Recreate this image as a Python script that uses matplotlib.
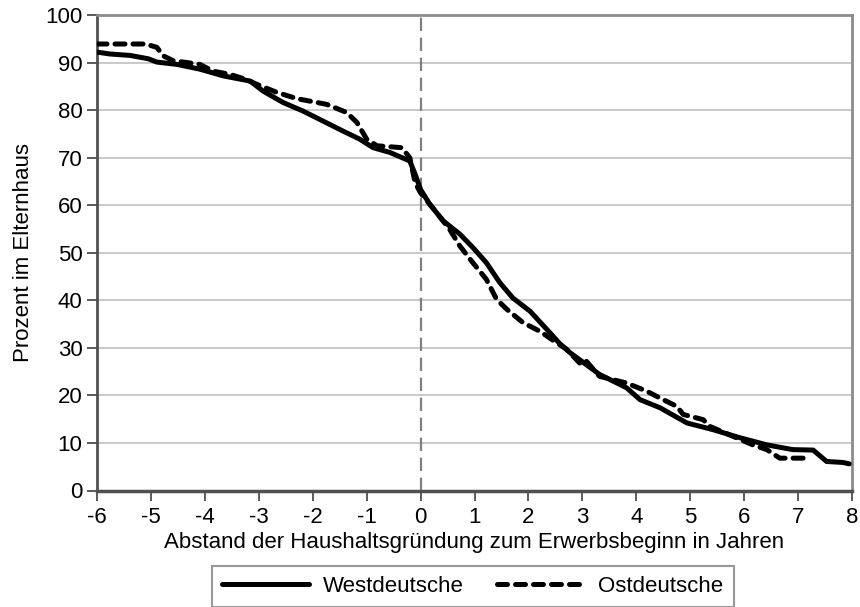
import matplotlib
matplotlib.use("Agg")
import matplotlib.pyplot as plt

plt.rcParams['font.family'] = ['Liberation Sans', 'DejaVu Sans']
plt.rcParams['axes.unicode_minus'] = False

# Westdeutsche (solid)
west_x = [-6.0, -5.76, -5.39, -5.05, -4.89, -4.51, -4.09, -3.66, -3.16, -2.92, -2.55, -2.18,
          -1.81, -1.44, -1.13, -0.88, -0.57, -0.2, -0.1, 0.0, 0.17, 0.42, 0.73, 0.97, 1.22,
          1.47, 1.71, 2.03, 2.34, 2.58, 2.77, 2.95, 3.32, 3.82, 4.07, 4.44, 4.94, 5.42, 5.92,
          6.42, 6.9, 7.28, 7.53, 7.83, 7.95]
west_y = [92.2, 91.8, 91.5, 90.8, 90.1, 89.6, 88.6, 87.2, 86.1, 84.0, 81.6, 79.8,
          77.7, 75.6, 73.9, 72.1, 71.1, 69.3, 66.5, 63.3, 60.2, 56.7, 53.9, 51.1, 47.9,
          43.7, 40.5, 37.7, 33.9, 30.9, 29.0, 27.5, 24.4, 21.6, 19.1, 17.4, 14.2, 12.8, 11.1,
          9.6, 8.6, 8.5, 6.1, 5.9, 5.6]

# Ostdeutsche (dashed)
ost_x = [-6.0, -5.1, -4.89, -4.77, -4.59, -4.27, -4.09, -3.85, -3.53, -3.25, -3.03, -2.66,
         -2.29, -1.92, -1.74, -1.37, -1.18, -1.0, -0.81, -0.35, -0.2, -0.1, 0.0, 0.3, 0.54,
         0.73, 0.97, 1.22, 1.41, 1.6, 1.9, 2.21, 2.52, 2.71, 2.95, 3.05, 3.32, 3.82, 4.19,
         4.5, 4.75, 4.87, 5.24, 5.36, 5.79, 6.16, 6.42, 6.66, 7.22]
ost_y = [93.9, 93.9, 93.2, 91.4, 90.4, 89.9, 89.6, 88.2, 87.5, 86.5, 85.4, 83.7,
         82.4, 81.6, 81.2, 79.5, 77.4, 73.9, 72.5, 72.1, 70.0, 64.7, 62.6, 58.4, 54.9,
         51.4, 47.9, 44.4, 40.2, 38.1, 35.3, 33.5, 31.1, 29.7, 26.8, 27.5, 24.0, 22.6, 20.9,
         19.1, 17.7, 16.0, 14.9, 13.5, 11.4, 9.6, 8.6, 6.8, 6.8]

x_ticks = list(range(-6, 9))
y_ticks = list(range(0, 101, 10))

fs = 16
fig = plt.figure(figsize=(8.6, 6.07), dpi=100)
ax = fig.add_axes([97 / 860, 1 - 490.5 / 607, (852 - 97) / 860, (490.5 - 15) / 607])

for y in y_ticks[1:]:
    ax.axhline(y, color='#c0c0c0', lw=1.2, zorder=1)
ax.axvline(0, color='#808080', lw=1.6, ls=(0, (6, 3)), zorder=2)

ax.plot(west_x, west_y, color='black', lw=3.6, solid_capstyle='round',
        solid_joinstyle='round', label='Westdeutsche', zorder=3)
ax.plot(ost_x, ost_y, color='black', lw=3.6, ls=(0, (2.0, 1.6)), dash_capstyle='round',
        label='Ostdeutsche', zorder=3)

ax.set_xlim(-6, 8)
ax.set_ylim(0, 100)
ax.set_xticks(x_ticks)
ax.set_yticks(y_ticks)
ax.tick_params(direction='out', length=7, width=1.2, color='#404040', labelsize=fs)
ax.tick_params(axis='x', pad=5)
ax.tick_params(axis='y', pad=3.5)
for s in ax.spines.values():
    s.set_color('#8c8c8c')
    s.set_linewidth(2)
ax.spines['bottom'].set_color('#505050')
ax.spines['bottom'].set_linewidth(2.5)
ax.spines['left'].set_color('#505050')

ax.set_xlabel('Abstand der Haushaltsgründung zum Erwerbsbeginn in Jahren', fontsize=fs, labelpad=3)
ax.set_ylabel('Prozent im Elternhaus', fontsize=fs, labelpad=8)

leg = fig.legend(loc='upper left', bbox_to_anchor=(212 / 860, 1 - 566 / 607), ncol=2,
                 fontsize=fs, frameon=True, fancybox=False, handlelength=3.9,
                 columnspacing=1.5, borderpad=0.45, handletextpad=0.65, borderaxespad=0)
leg.get_frame().set_edgecolor('#808080')
leg.get_frame().set_linewidth(1.5)

fig.savefig('out.png', dpi=100)
